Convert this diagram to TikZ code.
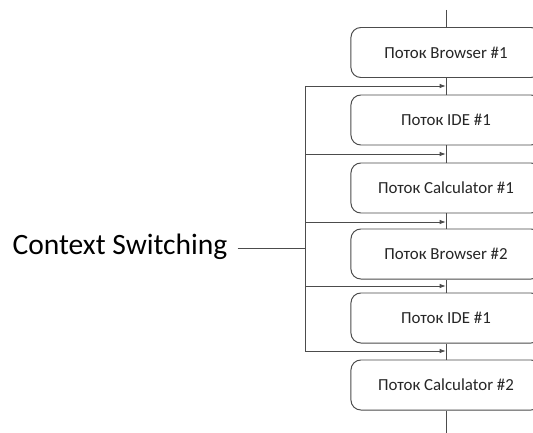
\documentclass[tikz,border=0pt]{standalone}
\usepackage{fontspec}
\setmainfont{Carlito}
\usetikzlibrary{arrows.meta}

\begin{document}
\begin{tikzpicture}[x=0.025cm,y=-0.025cm,line width=0.7pt,draw=black!70,
    potok/.style={draw=black!70,fill=white,rounded corners=7pt,minimum width=4.75cm,minimum height=1.25cm,font=\fontsize{12}{14}\selectfont,text=black!85},
    switch/.style={-{Latex[length=4.5pt,width=3.2pt]}}]
        \useasboundingbox (0,0) rectangle (533,433);
        \clip (0,0) rectangle (533,433);
        \node[potok] (b1) at (446,52.5) {Поток Browser \#1};
        \node[potok] (b2) at (446,120) {Поток IDE \#1};
        \node[potok] (b3) at (446,188) {Поток Calculator \#1};
        \node[potok] (b4) at (446,254) {Поток Browser \#2};
        \node[potok] (b5) at (446,318) {Поток IDE \#1};
        \node[potok] (b6) at (446,385) {Поток Calculator \#2};
        \coordinate (top) at (446,10);
        \coordinate (bot) at (446,433);
        \draw (top) -- (b1);
        \draw (b1) -- (b2);
        \draw (b2) -- (b3);
        \draw (b3) -- (b4);
        \draw (b4) -- (b5);
        \draw (b5) -- (b6);
        \draw (b6) -- (bot);
        \node[font=\fontsize{21}{25}\selectfont,text=black,inner xsep=7pt] (cs) at (120,247) {Context Switching};
        \coordinate (sw) at (305,248);
        \coordinate (k1) at (305,86);
        \coordinate (k2) at (305,154);
        \coordinate (k3) at (305,222);
        \coordinate (k4) at (305,286);
        \coordinate (k5) at (305,351);
        \coordinate (j1) at (446,86);
        \coordinate (j2) at (446,154);
        \coordinate (j3) at (446,222);
        \coordinate (j4) at (446,286);
        \coordinate (j5) at (446,351);
        \draw (cs.east |- sw) -- (sw);
        \draw (k1) -- (k5);
        \draw[switch] (k1) -- (j1);
        \draw[switch] (k2) -- (j2);
        \draw[switch] (k3) -- (j3);
        \draw[switch] (k4) -- (j4);
        \draw[switch] (k5) -- (j5);
    \end{tikzpicture}
\end{document}
